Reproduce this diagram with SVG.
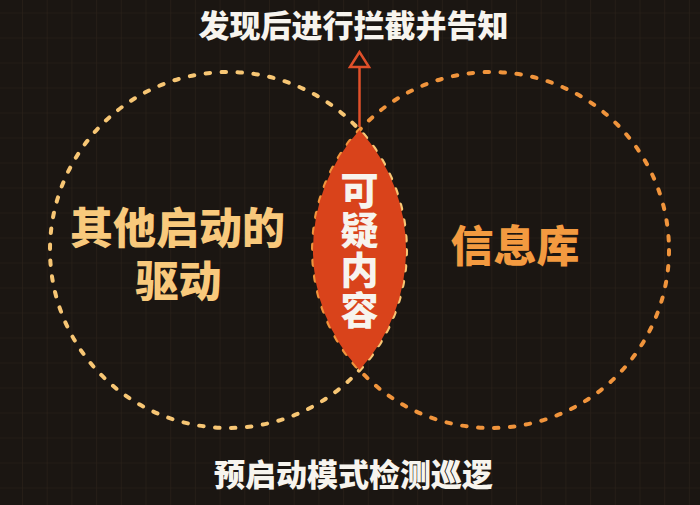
<svg xmlns="http://www.w3.org/2000/svg" width="700" height="505" viewBox="0 0 700 505">
  <style>
    .t { font-family: "Noto Sans CJK SC", "Noto Sans", sans-serif; font-weight: 900; text-anchor: middle; }
    .white { fill: #f7f4ee; }
    .yellow { fill: #f8c97c; }
    .orange { fill: #f39a40; }
    .ring { fill: none; stroke-width: 4; stroke-linecap: round; stroke-dasharray: 4.5 11.5; }
  </style>
  <defs>
    <pattern id="grid" patternUnits="userSpaceOnUse" x="22" y="12.5" width="24.7" height="25">
      <path d="M0 0V25M0 0H24.7" stroke="#2b2219" stroke-width="1.2" fill="none"/>
    </pattern>
    <marker id="hollowArrow" markerUnits="userSpaceOnUse" markerWidth="28" markerHeight="28" refX="24" refY="14" orient="auto" viewBox="0 0 28 28">
      <polygon points="24,14 9,4.5 9,23.5" fill="#1b1612" stroke="#e0502a" stroke-width="2.5" stroke-linejoin="miter"/>
    </marker>
  </defs>
  <rect width="700" height="505" fill="#1b1612"/>
  <rect width="700" height="505" fill="url(#grid)"/>

  <g id="left-circle">
    <circle class="ring" cx="228" cy="250" r="178" stroke="#f7c674"/>
    <text class="t yellow" font-size="43"><tspan x="177.5" y="243.5">其他启动的</tspan><tspan x="178.5" y="296.5">驱动</tspan></text>
  </g>

  <g id="right-circle">
    <circle class="ring" cx="491" cy="250" r="178" stroke="#f0943c"/>
    <text class="t orange" x="515" y="261.5" font-size="43">信息库</text>
  </g>

  <g id="intersection">
    <path d="M359.5 130 A178 178 0 0 1 359.5 370 A178 178 0 0 1 359.5 130 Z" fill="#d9431b"/>
    <text class="t white" x="359.5" y="251" font-size="38" letter-spacing="2" style="writing-mode: vertical-rl;">可疑内容</text>
  </g>

  <g id="connectors">
    <line x1="359.5" y1="127" x2="359.5" y2="52" stroke="#e0502a" stroke-width="2.5" marker-end="url(#hollowArrow)"/>
  </g>

  <g id="top-label">
    <text class="t white" x="353.5" y="36.5" font-size="31">发现后进行拦截并告知</text>
  </g>

  <g id="bottom-label">
    <text class="t white" x="353.5" y="485.5" font-size="31">预启动模式检测巡逻</text>
  </g>
</svg>
